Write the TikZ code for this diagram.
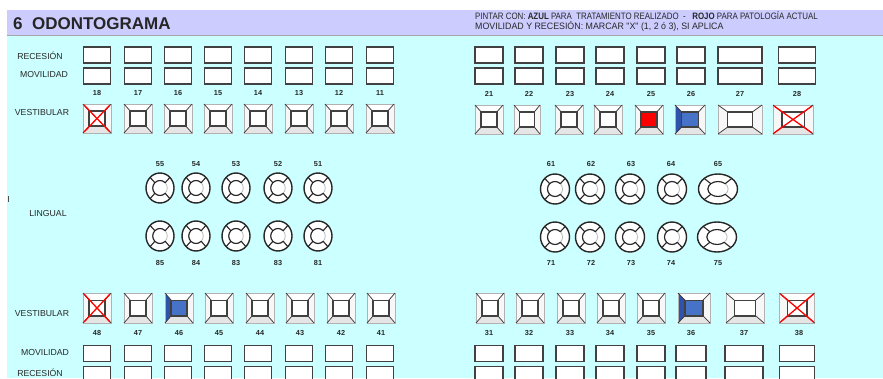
\documentclass[tikz,border=0pt]{standalone}
\usepackage{fontspec}
\setmainfont{Liberation Sans}
\newfontfamily\nar[FakeStretch=0.85]{Liberation Sans}
\newfontfamily\narb[FakeStretch=0.95]{Liberation Sans}
\definecolor{bgc}{RGB}{204,255,255}
\definecolor{hdr}{RGB}{204,204,255}
\definecolor{txt}{RGB}{40,40,40}
\definecolor{bl}{RGB}{70,115,200}
\definecolor{bld}{RGB}{48,82,168}
\definecolor{boxline}{RGB}{65,65,65}
\tikzset{
  lbl/.style={font=\fontsize{8.7}{9}\selectfont, text=txt, inner sep=0},
  num/.style={font=\bfseries\fontsize{7.3}{8}\selectfont, text=txt, inner sep=0},
  hdrtxt/.style={font=\nar\fontsize{9.3}{10}\selectfont, text=txt, inner sep=0, anchor=base west},
  cell/.style={draw=boxline, line width=1.2pt, fill=white},
}
% tooth: x, y, width, height, kind (0 plain, 1 red, 2 blue, 3 crossed)
\newcommand\tooth[5]{%
  \begin{scope}[shift={(#1,#2)}]
    \pgfmathsetmacro\ow{#3/2}\pgfmathsetmacro\oh{#4/2}%
    \pgfmathsetmacro\iw{#3*0.28}\pgfmathsetmacro\ih{#4*0.26}%
    \def\tf{white}%
    \ifnum#5=1 \def\tf{red}\fi
    \ifnum#5=2 \def\tf{bl}\fi
    \fill[gray!20] (-\ow,-\oh) rectangle (\ow,\oh);
    \fill[white] (-\ow,-\oh) -- (\ow,-\oh) -- (\iw,-\ih) -- (-\iw,-\ih) -- cycle;
    \fill[gray!6] (-\ow,-\oh) -- (-\iw,-\ih) -- (-\iw,\ih) -- (-\ow,\oh) -- cycle;
    \fill[gray!6] (\ow,-\oh) -- (\iw,-\ih) -- (\iw,\ih) -- (\ow,\oh) -- cycle;
    \ifnum#5=2 \fill[bld] (-\ow,-\oh) -- (-\iw,-\ih) -- (-\iw,\ih) -- (-\ow,\oh) -- cycle;\fi
    \draw[gray!60, line width=0.5pt] (-\ow,-\oh) rectangle (\ow,\oh);
    \draw[gray!45!black, line width=0.75pt] (-\ow,-\oh) -- (-\iw,-\ih) (\ow,-\oh) -- (\iw,-\ih)
      (\ow,\oh) -- (\iw,\ih) (-\ow,\oh) -- (-\iw,\ih);
    \draw[boxline, line width=1.4pt, fill=\tf] (-\iw,-\ih) rectangle (\iw,\ih);
    \ifnum#5=3 \draw[red, line width=1.3pt] (-\ow+1,-\oh+1) -- (\ow-1,\oh-1) (\ow-1,-\oh+1) -- (-\ow+1,\oh-1);\fi
  \end{scope}}
% lingual symbol: x, y, rx, ry
\newcommand\ling[4]{%
  \begin{scope}[shift={(#1,#2)}]
    \pgfmathsetmacro\irx{#3*0.52}\pgfmathsetmacro\iry{#4*0.5}%
    \fill[white] (0,0) ellipse [x radius=#3, y radius=#4];
    \draw[gray!55, line width=0.8pt] (0,0) ellipse [x radius=\irx, y radius=\iry];
    \draw[black!85, line width=1.1pt] ({\irx*cos(45)},{\iry*sin(45)}) arc [start angle=45, end angle=315, x radius=\irx, y radius=\iry];
    \foreach \a in {45,135,225,315}
      \draw[black!85, line width=1.1pt] ({\irx*cos(\a)},{\iry*sin(\a)}) -- ({#3*cos(\a)},{#4*sin(\a)});
    \draw[black!85, line width=1.4pt] (0,0) ellipse [x radius=#3, y radius=#4];
  \end{scope}}
\newcommand\cellbox[3]{\draw[cell] ({#1-#3/2},{#2-8}) rectangle ({#1+#3/2},{#2+8});}
\begin{document}
\begin{tikzpicture}[x=1pt,y=-1pt]
\useasboundingbox (0,0) rectangle (883,378);
\fill[white] (0,0) rectangle (883,378);
\fill[bgc] (7,35) rectangle (883,378);
\fill[hdr] (7,10) rectangle (883,35);
\draw[gray!70, line width=1pt] (7,35.5) -- (883,35.5);
% header texts
\node[anchor=base west, font=\bfseries\fontsize{17}{18}\selectfont, text=black!85, inner sep=0] (title) at (13,29) {6\ \ ODONTOGRAMA};
\node[hdrtxt] (h1) at (475,19) {PINTAR CON: \textbf{AZUL} PARA\ \ TRATAMIENTO REALIZADO\ \ -\ \ \ \textbf{ROJO} PARA PATOLOGÍA ACTUAL};
\node[hdrtxt, font=\narb\fontsize{9.3}{10}\selectfont] (h2) at (475,29) {MOVILIDAD Y RECESIÓN: MARCAR "X" (1, 2 ó 3), SI APLICA};
% row labels
\node[lbl] (l1) at (40,56) {RECESIÓN};
\node[lbl] (l2) at (44,75) {MOVILIDAD};
\node[lbl] (l3) at (42,113) {VESTIBULAR};
\node[lbl] (l4) at (48,213) {LINGUAL};
\node[lbl] (l5) at (42,313) {VESTIBULAR};
\node[lbl] (l6) at (45,352) {MOVILIDAD};
\node[lbl] (l7) at (40,373) {RECESIÓN};
\draw[black!70, line width=0.7pt] (8,196) -- (8,202);
% upper left
\foreach \x/\n/\k in {97/18/3,138/17/0,178/16/0,218/15/0,258/14/0,299/13/0,339/12/0,380/11/0}{
  \cellbox{\x}{55}{27}\cellbox{\x}{76}{27}
  \node[num] (n\n) at (\x,93) {\n};
  \tooth{\x}{118.5}{28}{29}{\k}
}
% upper right
\foreach \x/\n/\w in {489/21/28,529/22/28,570/23/28,610/24/28,651/25/28,691/26/28,740/27/44,797/28/37}{
  \cellbox{\x}{55}{\w}\cellbox{\x}{76}{\w}
  \node[num] (n\n) at (\x,94) {\n};
}
\foreach \x/\w/\k in {489/28/0,527/26/0,569/28/0,608/28/0,649/28/1,690/30/2,740/44/0,793/40/3}{
  \tooth{\x}{119.5}{\w}{29}{\k}
}
% lingual
\foreach \x/\n in {160/55,196/54,236/53,278/52,318/51}{
  \node[num] (n\n) at (\x,164) {\n};
  \ling{\x}{188}{14}{15}
}
\foreach \x/\n/\m in {160/85/a,196/84/b,236/83/c,278/83/d,318/81/e}{
  \node[num] (m\m) at (\x,263) {\n};
  \ling{\x}{236}{14}{15}
}
\foreach \x/\n in {551/61,591/62,631/63,671/64}{
  \node[num] (n\n) at (\x,164) {\n};
}
\foreach \x in {555,590,630,672}{\ling{\x}{189}{14.5}{15}\ling{\x}{237}{14.5}{15}}
\node[num] (n65) at (718,164) {65};
\ling{718}{189}{19.5}{15}
\ling{717}{237}{19.5}{15}
\foreach \x/\n in {551/71,591/72,631/73,671/74,718/75}{
  \node[num] (n\n) at (\x,263) {\n};
}
% lower left
\foreach \x/\n/\k in {97/48/3,138/47/0,179/46/2,219/45/0,260/44/0,300/43/0,341/42/0,381/41/0}{
  \tooth{\x}{308}{28}{30}{\k}
  \node[num] (n\n) at (\x,333) {\n};
}
\foreach \x in {97,138,178,218,258,299,339,380}{
  \cellbox{\x}{353.5}{27}\cellbox{\x}{374.5}{27}
}
% lower right
\foreach \x/\n/\w/\k/\t in {490/31/28/0/489,530/32/28/0/529,571/33/28/0/570,611/34/28/0/610,651/35/28/0/651,694/36/32/2/691,745/37/38/0/744,797/38/35/3/799}{
  \tooth{\x}{308}{\w}{30}{\k}
  \node[num] (n\n) at (\t,333) {\n};
}
\foreach \x/\w in {489/28,529/28,570/28,610/28,651/28,691/30,744/38,797/35}{
  \cellbox{\x}{353.5}{\w}\cellbox{\x}{374.5}{\w}
}
\end{tikzpicture}
\end{document}
